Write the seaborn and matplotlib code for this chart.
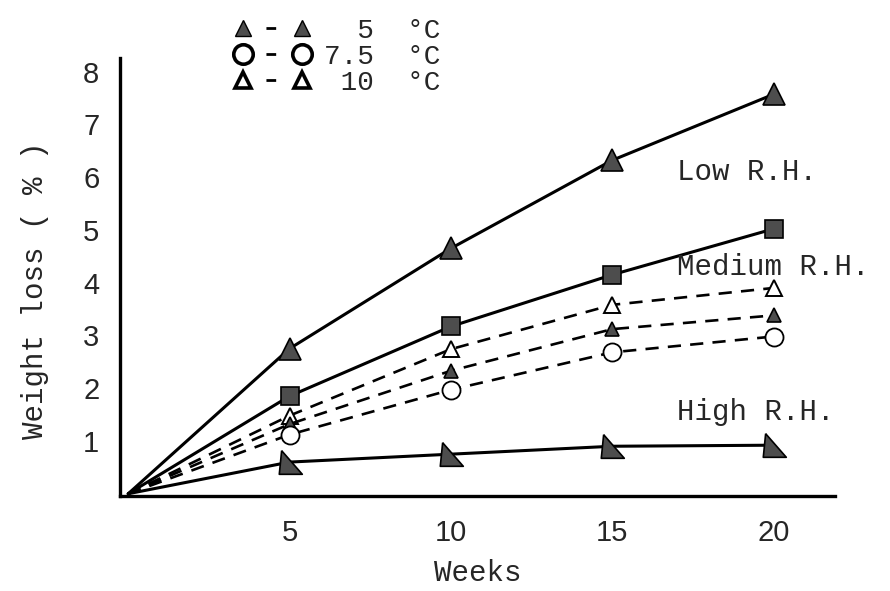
import matplotlib
matplotlib.use("Agg")
import matplotlib.pyplot as plt
from matplotlib.lines import Line2D
import seaborn as sns

# Weeks of storage and weight loss (%)
weeks = [0, 5, 10, 15, 20]
low_rh = [0, 2.75, 4.65, 6.32, 7.57]
medium_rh = [0, 1.85, 3.17, 4.15, 5.02]
high_rh = [0, 0.60, 0.75, 0.90, 0.92]
temp_5 = [0, 1.32, 2.33, 3.12, 3.38]
temp_7_5 = [0, 1.12, 1.97, 2.68, 2.98]
temp_10 = [0, 1.48, 2.74, 3.58, 3.90]

x_ticks = [5, 10, 15, 20]
y_ticks = [1, 2, 3, 4, 5, 6, 7, 8]
legend_labels = ["  5  °C", "7.5  °C", " 10  °C"]
curve_labels = ["Low R.H.", "Medium R.H.", "High R.H."]

sns.set_style("white")
plt.rcParams["font.family"] = ["Liberation Mono", "DejaVu Sans"]

fig = plt.figure(figsize=(8.9, 5.91), dpi=100)
ax = fig.add_axes([0.135, 0.161, 0.803, 0.741])

fill = "#4d4d4d"
skew_tri = [(-0.75, 1), (-0.95, -1), (1, -1), (-0.75, 1)]
marks = slice(1, None)

# solid curves (relative humidity)
sns.lineplot(x=weeks, y=low_rh, ax=ax, color="black", lw=2.2, marker="^",
             markersize=16, markerfacecolor=fill, markeredgecolor="black",
             markeredgewidth=1.2, markevery=marks)
sns.lineplot(x=weeks, y=medium_rh, ax=ax, color="black", lw=2.2, marker="s",
             markersize=13, markerfacecolor=fill, markeredgecolor="black",
             markeredgewidth=1.2, markevery=marks)
sns.lineplot(x=weeks, y=high_rh, ax=ax, color="black", lw=2.2, marker=skew_tri,
             markersize=17, markerfacecolor=fill, markeredgecolor="black",
             markeredgewidth=1.2, markevery=marks)

# dashed curves (temperature)
dash = (0, (5, 3.5))
sns.lineplot(x=weeks, y=temp_10, ax=ax, color="black", lw=1.9, linestyle=dash,
             marker="^", markersize=11, markerfacecolor="white",
             markeredgecolor="black", markeredgewidth=1.4, markevery=marks)
sns.lineplot(x=weeks, y=temp_5, ax=ax, color="black", lw=1.9, linestyle=dash,
             marker="^", markersize=10, markerfacecolor=fill,
             markeredgecolor="black", markeredgewidth=1.2, markevery=marks)
sns.lineplot(x=weeks, y=temp_7_5, ax=ax, color="black", lw=1.9, linestyle=dash,
             marker="o", markersize=13, markerfacecolor="white",
             markeredgecolor="black", markeredgewidth=1.3, markevery=marks)

ax.set_xlim(-0.25, 21.9)
ax.set_ylim(-0.04, 8.26)
ax.set_xticks(x_ticks)
ax.set_yticks(y_ticks)
ax.set_xticklabels([str(t) for t in x_ticks], family="Liberation Sans", fontsize=21)
ax.set_yticklabels([str(t) for t in y_ticks], family="Liberation Sans", fontsize=21)
ax.tick_params(axis="y", direction="out", length=13, width=1.5, pad=2, color="black")
ax.tick_params(axis="x", direction="inout", length=16, width=1.5, pad=9, color="black")

for side in ["top", "right"]:
    ax.spines[side].set_visible(False)
for side in ["left", "bottom"]:
    ax.spines[side].set_linewidth(2.4)
    ax.spines[side].set_color("black")

ax.set_xlabel("Weeks", fontsize=21)
ax.set_ylabel("Weight loss ( % )", fontsize=21)
ax.xaxis.set_label_coords(0.50, -0.145)
ax.yaxis.set_label_coords(-0.10, 0.47)

# curve annotations
label_y = [6.1, 4.3, 1.55]
for text, y in zip(curve_labels, label_y):
    ax.text(17.0, y, text, fontsize=21, va="center", ha="left", clip_on=False)

# legend for the dashed series
gap = (0, (0.01, 8.25, 3.5, 100))
handles = [
    Line2D([], [], color="black", lw=2, linestyle=gap, marker="^", markersize=12,
           markerfacecolor=fill, markeredgecolor="black"),
    Line2D([], [], color="black", lw=2, linestyle=gap, marker="o", markersize=14,
           markerfacecolor="white", markeredgecolor="black", markeredgewidth=2.6),
    Line2D([], [], color="black", lw=2, linestyle=gap, marker="^", markersize=12,
           markerfacecolor="white", markeredgecolor="black", markeredgewidth=2.6),
]
fig.legend(handles, legend_labels, loc="upper left", bbox_to_anchor=(0.236, 1.012),
           frameon=False, numpoints=2, handlelength=2.7, handletextpad=0.5,
           labelspacing=0.0, fontsize=20)

fig.savefig("out.png", dpi=100)
